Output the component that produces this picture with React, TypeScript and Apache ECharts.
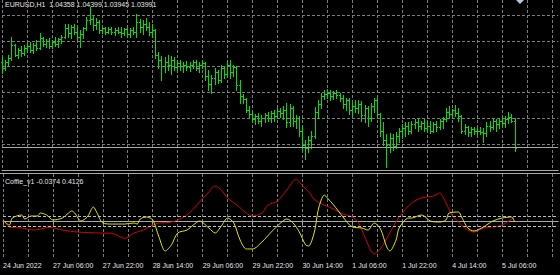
import React, { useEffect, useRef } from "react";
import * as echarts from "echarts";

// ---------- texts ----------
const symbolLabel = "EURUSD,H1  1.04358 1.04399 1.03945 1.03991";
const indicatorLabel = "Coffie_v1 -0.0374 0.4126";
const tickLabels = [
  "24 Jun 2022", "27 Jun 06:00", "27 Jun 22:00", "28 Jun 14:00", "29 Jun 06:00",
  "29 Jun 22:00", "30 Jun 14:00", "1 Jul 06:00", "1 Jul 22:00", "4 Jul 14:00", "5 Jul 06:00",
];

// ---------- price bars (H1) ----------
const opens = [
  1.0518, 1.0510, 1.0518, 1.0524, 1.0542, 1.0529, 1.0535, 1.0531, 1.0538, 1.0541,
  1.0535, 1.0542, 1.0538, 1.0552, 1.0543, 1.0548, 1.0541, 1.0546, 1.0543, 1.0550,
  1.0553, 1.0566, 1.0559, 1.0567, 1.0560, 1.0553, 1.0557, 1.0566, 1.0577, 1.0578,
  1.0570, 1.0574, 1.0563, 1.0566, 1.0561, 1.0564, 1.0560, 1.0563, 1.0561, 1.0559,
  1.0564, 1.0557, 1.0563, 1.0560, 1.0574, 1.0568, 1.0571, 1.0567, 1.0560, 1.0563,
  1.0528, 1.0521, 1.0513, 1.0518, 1.0514, 1.0521, 1.0511, 1.0517, 1.0513, 1.0515,
  1.0511, 1.0514, 1.0518, 1.0510, 1.0515, 1.0517, 1.0499, 1.0488, 1.0496, 1.0504,
  1.0493, 1.0510, 1.0502, 1.0514, 1.0504, 1.0511, 1.0486, 1.0471, 1.0467, 1.0451,
  1.0446, 1.0439, 1.0443, 1.0437, 1.0440, 1.0444, 1.0440, 1.0447, 1.0443, 1.0450,
  1.0447, 1.0451, 1.0435, 1.0454, 1.0437, 1.0440, 1.0423, 1.0403, 1.0398, 1.0410,
  1.0416, 1.0449, 1.0460, 1.0471, 1.0474, 1.0476, 1.0471, 1.0475, 1.0472, 1.0468,
  1.0460, 1.0465, 1.0451, 1.0457, 1.0454, 1.0460, 1.0444, 1.0454, 1.0440, 1.0457,
  1.0465, 1.0446, 1.0423, 1.0410, 1.0403, 1.0412, 1.0401, 1.0415, 1.0422, 1.0426,
  1.0430, 1.0423, 1.0432, 1.0435, 1.0429, 1.0433, 1.0426, 1.0430, 1.0423, 1.0432,
  1.0428, 1.0436, 1.0439, 1.0449, 1.0446, 1.0451, 1.0447, 1.0443, 1.0423, 1.0428,
  1.0421, 1.0425, 1.0422, 1.0423, 1.0421, 1.0419, 1.0430, 1.0428, 1.0436, 1.0432,
  1.0437, 1.0433, 1.0439, 1.0442, 1.04358,
];
const highs = [
  1.0525, 1.0521, 1.0528, 1.0554, 1.0543, 1.0538, 1.0541, 1.0542, 1.0545, 1.0546,
  1.0545, 1.0549, 1.0559, 1.0553, 1.0550, 1.0552, 1.0549, 1.0554, 1.0552, 1.0556,
  1.0571, 1.0571, 1.0570, 1.0571, 1.0568, 1.0563, 1.0568, 1.0581, 1.0595, 1.0582,
  1.0580, 1.0577, 1.0568, 1.0567, 1.0567, 1.0568, 1.0566, 1.0568, 1.0567, 1.0566,
  1.0567, 1.0566, 1.0568, 1.0585, 1.0578, 1.0577, 1.0580, 1.0575, 1.0571, 1.0564,
  1.0532, 1.0527, 1.0525, 1.0528, 1.0527, 1.0525, 1.0522, 1.0521, 1.0518, 1.0520,
  1.0518, 1.0521, 1.0521, 1.0518, 1.0521, 1.0518, 1.0507, 1.0500, 1.0510, 1.0507,
  1.0515, 1.0513, 1.0518, 1.0521, 1.0515, 1.0513, 1.0493, 1.0474, 1.0469, 1.0457,
  1.0449, 1.0446, 1.0447, 1.0444, 1.0447, 1.0449, 1.0450, 1.0451, 1.0454, 1.0454,
  1.0457, 1.0462, 1.0460, 1.0457, 1.0444, 1.0443, 1.0429, 1.0410, 1.0416, 1.0423,
  1.0456, 1.0465, 1.0476, 1.0479, 1.0481, 1.0479, 1.0478, 1.0479, 1.0476, 1.0472,
  1.0469, 1.0468, 1.0462, 1.0465, 1.0465, 1.0464, 1.0458, 1.0457, 1.0461, 1.0469,
  1.0468, 1.0447, 1.0435, 1.0418, 1.0419, 1.0418, 1.0421, 1.0426, 1.0432, 1.0435,
  1.0435, 1.0436, 1.0439, 1.0440, 1.0437, 1.0439, 1.0436, 1.0436, 1.0435, 1.0437,
  1.0439, 1.0442, 1.0454, 1.0457, 1.0453, 1.0458, 1.0454, 1.0444, 1.0432, 1.0429,
  1.0428, 1.0428, 1.0426, 1.0428, 1.0426, 1.0435, 1.0437, 1.0440, 1.0439, 1.0440,
  1.0442, 1.0443, 1.0449, 1.0446, 1.04399,
];
const lows = [
  1.0503, 1.0507, 1.0513, 1.0521, 1.0527, 1.0524, 1.0527, 1.0528, 1.0532, 1.0532,
  1.0531, 1.0535, 1.0536, 1.0541, 1.0539, 1.0538, 1.0538, 1.0541, 1.0539, 1.0545,
  1.0552, 1.0554, 1.0552, 1.0557, 1.0549, 1.0539, 1.0552, 1.0563, 1.0571, 1.0563,
  1.0564, 1.0559, 1.0559, 1.0557, 1.0559, 1.0557, 1.0556, 1.0559, 1.0554, 1.0556,
  1.0553, 1.0554, 1.0557, 1.0554, 1.0561, 1.0557, 1.0563, 1.0556, 1.0554, 1.0524,
  1.0510, 1.0493, 1.0504, 1.0507, 1.0502, 1.0507, 1.0504, 1.0507, 1.0504, 1.0508,
  1.0506, 1.0510, 1.0507, 1.0504, 1.0510, 1.0493, 1.0479, 1.0476, 1.0488, 1.0489,
  1.0490, 1.0496, 1.0499, 1.0496, 1.0499, 1.0479, 1.0462, 1.0461, 1.0449, 1.0440,
  1.0435, 1.0432, 1.0433, 1.0430, 1.0435, 1.0436, 1.0435, 1.0437, 1.0440, 1.0442,
  1.0439, 1.0428, 1.0429, 1.0430, 1.0426, 1.0416, 1.0396, 1.0384, 1.0393, 1.0398,
  1.0412, 1.0440, 1.0454, 1.0467, 1.0468, 1.0465, 1.0467, 1.0468, 1.0464, 1.0454,
  1.0451, 1.0446, 1.0443, 1.0449, 1.0447, 1.0437, 1.0435, 1.0430, 1.0437, 1.0449,
  1.0440, 1.0416, 1.0403, 1.0372, 1.0393, 1.0396, 1.0398, 1.0407, 1.0412, 1.0415,
  1.0418, 1.0419, 1.0426, 1.0423, 1.0425, 1.0422, 1.0421, 1.0419, 1.0421, 1.0422,
  1.0425, 1.0426, 1.0436, 1.0440, 1.0440, 1.0443, 1.0437, 1.0419, 1.0418, 1.0415,
  1.0416, 1.0418, 1.0416, 1.0418, 1.0407, 1.0416, 1.0423, 1.0425, 1.0423, 1.0426,
  1.0429, 1.0428, 1.0433, 1.0435, 1.03945,
];
const closes = [
  1.0510, 1.0518, 1.0524, 1.0542, 1.0529, 1.0535, 1.0531, 1.0538, 1.0541, 1.0535,
  1.0542, 1.0538, 1.0552, 1.0543, 1.0548, 1.0541, 1.0546, 1.0543, 1.0550, 1.0553,
  1.0566, 1.0559, 1.0567, 1.0560, 1.0553, 1.0557, 1.0566, 1.0577, 1.0578, 1.0570,
  1.0574, 1.0563, 1.0566, 1.0561, 1.0564, 1.0560, 1.0563, 1.0561, 1.0559, 1.0564,
  1.0557, 1.0563, 1.0560, 1.0574, 1.0568, 1.0571, 1.0567, 1.0560, 1.0563, 1.0528,
  1.0521, 1.0513, 1.0518, 1.0514, 1.0521, 1.0511, 1.0517, 1.0513, 1.0515, 1.0511,
  1.0514, 1.0518, 1.0510, 1.0515, 1.0517, 1.0499, 1.0488, 1.0496, 1.0504, 1.0493,
  1.0510, 1.0502, 1.0514, 1.0504, 1.0511, 1.0486, 1.0471, 1.0467, 1.0451, 1.0446,
  1.0439, 1.0443, 1.0437, 1.0440, 1.0444, 1.0440, 1.0447, 1.0443, 1.0450, 1.0447,
  1.0451, 1.0435, 1.0454, 1.0437, 1.0440, 1.0423, 1.0403, 1.0398, 1.0410, 1.0416,
  1.0449, 1.0460, 1.0471, 1.0474, 1.0476, 1.0471, 1.0475, 1.0472, 1.0468, 1.0460,
  1.0465, 1.0451, 1.0457, 1.0454, 1.0460, 1.0444, 1.0454, 1.0440, 1.0457, 1.0465,
  1.0446, 1.0423, 1.0410, 1.0403, 1.0412, 1.0401, 1.0415, 1.0422, 1.0426, 1.0430,
  1.0423, 1.0432, 1.0435, 1.0429, 1.0433, 1.0426, 1.0430, 1.0423, 1.0432, 1.0428,
  1.0436, 1.0439, 1.0449, 1.0446, 1.0451, 1.0447, 1.0443, 1.0423, 1.0428, 1.0421,
  1.0425, 1.0422, 1.0423, 1.0421, 1.0419, 1.0430, 1.0428, 1.0436, 1.0432, 1.0437,
  1.0433, 1.0439, 1.0442, 1.0436, 1.03991,
];
const bidPrice = 1.03991;

// ---------- Coffie_v1 indicator (bar index, value) ----------
const redIdx = [
  0, 2, 6, 10, 15, 19, 24, 31, 35, 39, 42, 45, 48, 50, 54, 58, 61, 63, 66, 68,
  70, 72, 75, 78, 80, 83, 85, 88, 91, 94, 95, 98, 100, 103, 106, 109, 112, 114, 116, 119,
  121, 124, 127, 131, 134, 136, 138, 140, 142, 144, 147, 149, 151, 154, 157, 160, 164,
];
const redVal = [
  0.22, -0.53, -0.62, -0.81, -0.56, -0.81, -1.0, -1.09, -1.12, -1.59, -1.09, -0.81, -0.34, -0.15, -0.06, 0.41, 1.15, 1.81, 2.75, 3.31,
  2.93, 2.18, 1.53, 0.78, 0.5, 0.78, 1.53, 1.9, 2.93, 3.96, 3.68, 2.75, 2.0, 1.53, 1.15, 0.69, 0.41, -0.15, -1.46, -3.05,
  -2.58, -1.09, 0.41, 1.72, 2.18, 2.28, 2.37, 2.65, 1.72, 0.59, -0.34, -0.81, -1.0, -0.62, -0.53, -0.34, 0.4126,
];
const yelIdx = [
  0, 2, 3, 6, 7, 9, 11, 12, 14, 16, 19, 21, 22, 23, 25, 27, 29, 30, 32, 35,
  39, 42, 43, 44, 46, 48, 50, 52, 54, 56, 59, 61, 63, 66, 68, 70, 72, 74, 76, 78,
  80, 83, 86, 89, 91, 93, 95, 97, 98, 99, 100, 101, 102, 103, 104, 106, 109, 112, 115, 117,
  119, 121, 123, 124, 126, 127, 130, 131, 134, 135, 137, 140, 142, 143, 146, 147, 149, 151, 154, 157,
  160, 163, 164,
];
const yelVal = [
  0.13, -0.34, 0.31, 0.59, 0.22, 0.5, 0.5, 0.78, 0.59, 0.13, 0.31, 0.78, 0.97, 0.78, 0.03, 0.41, 1.34, 0.87, -0.15, -0.25,
  -0.25, -0.15, -0.25, 0.22, 0.41, 0.13, -1.46, -2.77, -2.2, -1.09, -0.81, -0.34, 0.03, -0.62, -1.09, -0.43, 0.31, -0.15, -1.74, -2.58,
  -2.58, -1.93, -1.0, -0.15, 0.22, -0.15, -1.0, -2.2, -2.3, -1.8, -0.76, 1.0, 2.0, 2.46, 2.18, 1.53, 0.41, -0.53, -0.62, -0.81,
  -0.15, -0.71, -2.39, -2.77, -1.74, -0.62, 0.31, 0.31, 0.59, 0.5, 0.03, -0.06, 0.13, 0.78, 0.87, 0.41, -0.62, -0.9, -0.53, 0.03,
  0.31, 0.41, -0.0374,
];
const levels = [0.5, -0.5];

// category slots (bars + empty right shift area)
const slotCount = 179;
const categories = Array.from({ length: slotCount }, (_, i) => String(i));

const BAR = "#00e000";
const GRID = "#7c7c7c";
const LINE = "#a8a8a8";
const TEXT = "#e6e6e6";
const FONT = "Liberation Sans, Arial, sans-serif";

export default function App() {
  const ref = useRef<HTMLDivElement>(null);
  useEffect(() => {
    if (!ref.current) return;
    const chart = echarts.init(ref.current, undefined, { renderer: "svg" });
    const ohlc = opens.map((o, i) => [i, o, highs[i], lows[i], closes[i]]);
    const dash = { color: GRID, type: [3, 2] as any, width: 1 };
    const option: any = {
      animation: false,
      backgroundColor: "#000000",
      grid: [
        { left: 2, right: 1.75, top: 0, height: 170 },
        { left: 2, right: 1.75, top: 174, height: 85 },
      ],
      xAxis: [
        {
          type: "category", gridIndex: 0, data: categories, boundaryGap: false,
          axisLine: { show: true, lineStyle: { color: LINE } },
          axisTick: { show: false }, axisLabel: { show: false },
          splitLine: { show: true, interval: 7, lineStyle: dash },
        },
        {
          type: "category", gridIndex: 1, data: categories, boundaryGap: false,
          axisLine: { show: true, lineStyle: { color: LINE } },
          axisTick: { show: true, interval: 15, length: 3, lineStyle: { color: LINE } },
          axisLabel: {
            show: true, interval: 15, align: "left", margin: 3,
            color: TEXT, fontSize: 7, fontFamily: FONT,
            formatter: (_v: string, idx: number) => tickLabels[idx / 16] ?? "",
          },
          splitLine: { show: true, interval: 7, lineStyle: dash },
        },
      ],
      yAxis: [
        {
          type: "value", gridIndex: 0, min: 1.0368, max: 1.0605, interval: 0.0036,
          axisLine: { show: false }, axisTick: { show: false }, axisLabel: { show: false },
          splitLine: { show: true, showMinLine: false, showMaxLine: false, lineStyle: dash },
        },
        {
          type: "value", gridIndex: 1, min: -3.52, max: 4.43,
          axisLine: { show: false }, axisTick: { show: false }, axisLabel: { show: false },
          splitLine: { show: false },
        },
      ],
      series: [
        {
          type: "custom", xAxisIndex: 0, yAxisIndex: 0, data: ohlc,
          encode: { x: 0, y: [1, 2, 3, 4] },
          renderItem: (_p: any, api: any) => {
            const i = api.value(0);
            const po = api.coord([i, api.value(1)]);
            const ph = api.coord([i, api.value(2)]);
            const pl = api.coord([i, api.value(3)]);
            const pc = api.coord([i, api.value(4)]);
            const x = Math.round(po[0]) + 0.5;
            const yo = Math.round(po[1]) + 0.5;
            const yc = Math.round(pc[1]) + 0.5;
            const st = { stroke: BAR, lineWidth: 1 };
            return {
              type: "group",
              children: [
                { type: "line", shape: { x1: x, y1: Math.round(ph[1]), x2: x, y2: Math.round(pl[1]) + 1 }, style: st },
                { type: "line", shape: { x1: x - 1.5, y1: yo, x2: x - 0.5, y2: yo }, style: st },
                { type: "line", shape: { x1: x + 0.5, y1: yc, x2: x + 1.5, y2: yc }, style: st },
              ],
            };
          },
        },
        {
          type: "line", xAxisIndex: 0, yAxisIndex: 0, data: [], silent: true,
          markLine: {
            silent: true, symbol: "none", label: { show: false },
            lineStyle: { color: LINE, type: "solid", width: 1 },
            data: [{ yAxis: bidPrice }],
          },
        },
        {
          type: "line", xAxisIndex: 1, yAxisIndex: 1, showSymbol: false, smooth: 0.3,
          data: redIdx.map((i, k) => [i, redVal[k]]),
          lineStyle: { color: "#d40000", width: 1 },
          markLine: {
            silent: true, symbol: "none", label: { show: false },
            lineStyle: { color: "#bdbdbd", type: [3, 2], width: 1 },
            data: levels.map((v) => ({ yAxis: v })),
          },
        },
        {
          type: "line", xAxisIndex: 1, yAxisIndex: 1, showSymbol: false, smooth: 0.3,
          data: yelIdx.map((i, k) => [i, yelVal[k]]),
          lineStyle: { color: "#e6e600", width: 1 },
        },
      ],
      graphic: [
        { type: "text", left: 5, top: 1, style: { text: symbolLabel, fill: TEXT, font: `7px ${FONT}` } },
        { type: "text", left: 5, top: 178, style: { text: indicatorLabel, fill: TEXT, font: `7px ${FONT}` } },
        { type: "line", shape: { x1: 0, y1: 173.5, x2: 560, y2: 173.5 }, style: { stroke: LINE, lineWidth: 1 } },
        { type: "polygon", shape: { points: [[516, 0], [524, 0], [520, 4]] }, style: { fill: "#b4c6e0" } },
      ],
    };
    chart.setOption(option);
    return () => chart.dispose();
  }, []);
  return (
    <div
      ref={ref}
      style={{ position: "absolute", left: 0, top: 0, width: 560, height: 275 }}
    />
  );
}
